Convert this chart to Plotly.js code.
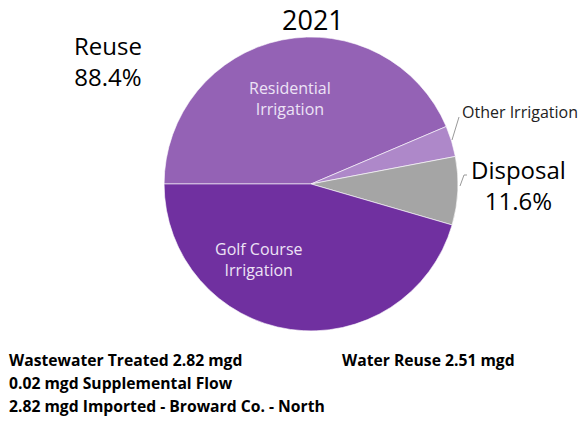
<!DOCTYPE html>
<html><head><meta charset="utf-8">
<script src="https://cdn.plot.ly/plotly-3.0.1.min.js"></script>
<style>html,body{margin:0;padding:0;background:#fff}</style>
</head><body><div id="chart" style="width:582px;height:421px"></div>
<script>
var sliceLabels = ["Residential Irrigation", "Other Irrigation", "Disposal", "Golf Course Irrigation"];
var sliceValues = [43.6, 3.4, 7.5, 45.5];
var sliceColors = ["#9462B5", "#AE88C9", "#A5A5A5", "#7030A0"];
var titleText = "2021";
var reuseLabel = ["Reuse", "88.4%"];
var disposalLabel = ["Disposal", "11.6%"];
var footLeft = ["Wastewater Treated 2.82 mgd", "0.02 mgd Supplemental Flow", "2.82 mgd Imported - Broward Co. - North"];
var footRight = ["Water Reuse 2.51 mgd"];

var F = "'Open Sans', sans-serif";
var data = [{
  type: "pie", labels: sliceLabels, values: sliceValues, sort: false,
  direction: "clockwise", rotation: 270,
  marker: {colors: sliceColors, line: {color: "#ffffff", width: 0.6}},
  textinfo: "none", hoverinfo: "none", showlegend: false,
  domain: {x: [0.2818, 0.787], y: [0.214, 0.912]}
}];
function px(x){return x/582;} function py(y){return 1 - y/421;}
var ann = [
  {text: titleText, x: px(313), y: py(0), yanchor: "top", borderpad: 0, font: {size: 27, color: "#000"}},
  {text: reuseLabel.join("<br>"), x: px(108), y: py(61), font: {size: 24, color: "#000"}},
  {text: disposalLabel.join("<br>"), x: px(518), y: py(185), font: {size: 24, color: "#000"}},
  {text: sliceLabels[1], x: px(520), y: py(112), font: {size: 16, color: "#222"}},
  {text: "Residential<br>Irrigation", x: px(290), y: py(98), font: {size: 16, color: "#EDE3F5"}},
  {text: "Golf Course<br>Irrigation", x: px(259), y: py(259), font: {size: 16, color: "#EDE3F5"}},
  {text: "<b>" + footLeft[0] + "</b>", x: px(7), y: py(360), xanchor: "left", align: "left", font: {size: 15.7, color: "#000"}},
  {text: "<b>" + footLeft[1] + "</b>", x: px(7), y: py(383), xanchor: "left", align: "left", font: {size: 15.7, color: "#000"}},
  {text: "<b>" + footLeft[2] + "</b>", x: px(7), y: py(406), xanchor: "left", align: "left", font: {size: 15.7, color: "#000"}},
  {text: "<b>" + footRight[0] + "</b>", x: px(340), y: py(360), xanchor: "left", align: "left", font: {size: 15.7, color: "#000"}}
].map(function(a){ return Object.assign({xref: "paper", yref: "paper", showarrow: false, yanchor: "middle", xanchor: "center"}, a); });
var layout = {
  width: 582, height: 421, margin: {l: 0, r: 0, t: 0, b: 0},
  paper_bgcolor: "#fff", font: {family: F},
  annotations: ann,
  shapes: [
    {type: "line", xref: "paper", yref: "paper", x0: px(459), y0: py(117), x1: px(452), y1: py(140), line: {color: "#999", width: 1}},
    {type: "path", xref: "paper", yref: "paper", path: "M" + px(467) + "," + py(175) + " L" + px(464) + "," + py(175) + " L" + px(460) + "," + py(186), line: {color: "#999", width: 1}}
  ]
};
Plotly.newPlot("chart", data, layout, {staticPlot: true});
</script></body></html>
